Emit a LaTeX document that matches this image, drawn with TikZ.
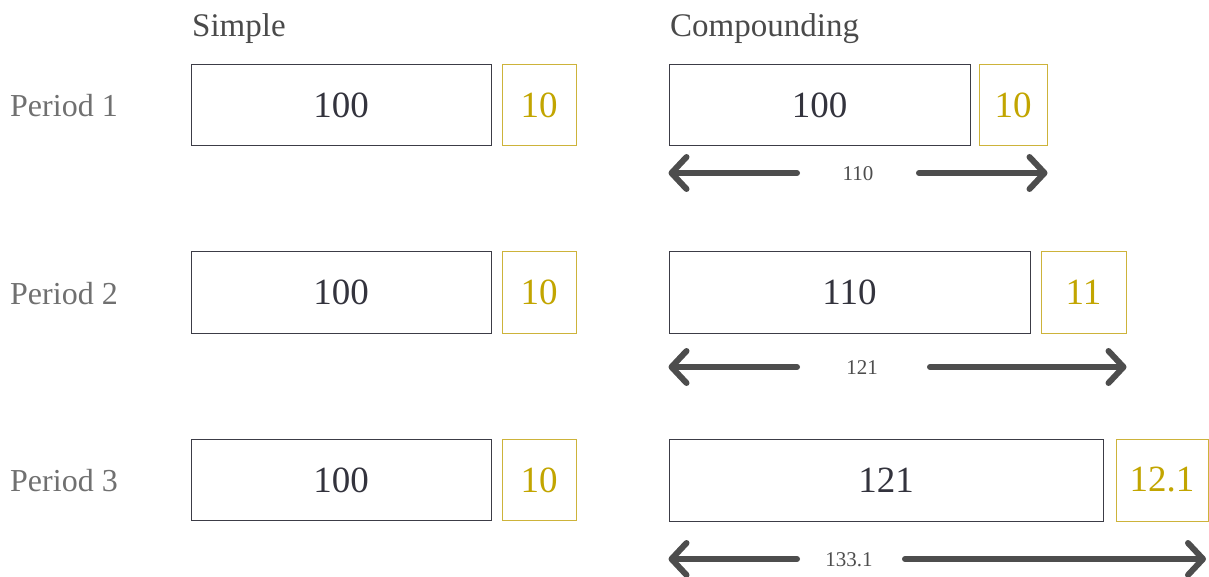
\documentclass[tikz,border=0pt]{standalone}
\usepackage{fontspec}
\setmainfont{Liberation Serif}
\usetikzlibrary{arrows.meta}
\definecolor{boxline}{HTML}{3C3C46}
\definecolor{boxtext}{HTML}{33333D}
\definecolor{goldline}{HTML}{CDB33A}
\definecolor{goldtext}{HTML}{C2A500}
\definecolor{periodgray}{HTML}{707070}
\definecolor{headgray}{HTML}{4A4A4A}
\definecolor{arrowgray}{HTML}{4D4D4D}
\tikzset{
  x=1pt, y=-1pt,
  mainbox/.style={draw=boxline, line width=1pt, text=boxtext, inner sep=0pt,
    font=\fontsize{37}{40}\selectfont},
  goldbox/.style={draw=goldline, line width=1pt, text=goldtext, inner sep=0pt,
    font=\fontsize{37}{40}\selectfont},
  period/.style={anchor=west, text=periodgray, inner sep=0pt, font=\fontsize{32}{36}\selectfont},
  head/.style={anchor=west, text=headgray, inner sep=0pt, font=\fontsize{33}{36}\selectfont},
  alabel/.style={text=arrowgray, inner sep=0pt, font=\fontsize{21}{24}\selectfont},
  dimarrow/.style={draw=arrowgray, line width=6pt, line cap=round,
    -{Straight Barb[length=15pt, width=32pt, line cap=round, line join=round]}},
}
\begin{document}
\begin{tikzpicture}
\useasboundingbox (0,0) rectangle (1209,577);
% headings
\node[head] (hs) at (192,29) {Simple};
\node[head] (hc) at (670,29) {Compounding};
% period labels
\node[period] (p1) at (10,106) {Period 1};
\node[period] (p2) at (10,294) {Period 2};
\node[period] (p3) at (10,481) {Period 3};
% simple boxes
\foreach \r/\ya/\yb in {1/65/146, 2/252/333, 3/439/521}{
  \node[mainbox, minimum width=300pt, minimum height=81pt] (s\r) at (341,{(\ya+\yb)/2}) {100};
  \node[goldbox, minimum width=74pt, minimum height=81pt] (sg\r) at (539,{(\ya+\yb)/2}) {10};
}
% compounding boxes
\node[mainbox, minimum width=301pt, minimum height=81pt] (c1) at (819.5,105.5) {100};
\node[goldbox, minimum width=68pt, minimum height=81pt] (cg1) at (1013,105.5) {10};
\node[mainbox, minimum width=361pt, minimum height=81pt] (c2) at (849.5,292.5) {110};
\node[goldbox, minimum width=85pt, minimum height=81pt] (cg2) at (1083.5,292.5) {11};
\node[mainbox, minimum width=434pt, minimum height=82pt] (c3) at (886,480) {121};
\node[goldbox, minimum width=92pt, minimum height=82pt] (cg3) at (1162,480) {12.1};
% dimension arrows
\node[alabel] (l1) at (858,174) {110};
\node[alabel] (l2) at (862,368) {121};
\node[alabel] (l3) at (849,560) {133.1};
\coordinate (l1a) at (797,173); \coordinate (l1b) at (919,173);
\coordinate (l2a) at (797,367); \coordinate (l2b) at (930,367);
\coordinate (l3a) at (797,559); \coordinate (l3b) at (905,559);
\coordinate (e1a) at (c1.west |- l1a); \coordinate (e1b) at (cg1.east |- l1b);
\coordinate (e2a) at (c2.west |- l2a); \coordinate (e2b) at (cg2.east |- l2b);
\coordinate (e3a) at (c3.west |- l3a); \coordinate (e3b) at (1206,559);
\foreach \i in {1,2,3}{
  \draw[dimarrow] (l\i a) -- (e\i a);
  \draw[dimarrow] (l\i b) -- (e\i b);
}
\end{tikzpicture}
\end{document}
